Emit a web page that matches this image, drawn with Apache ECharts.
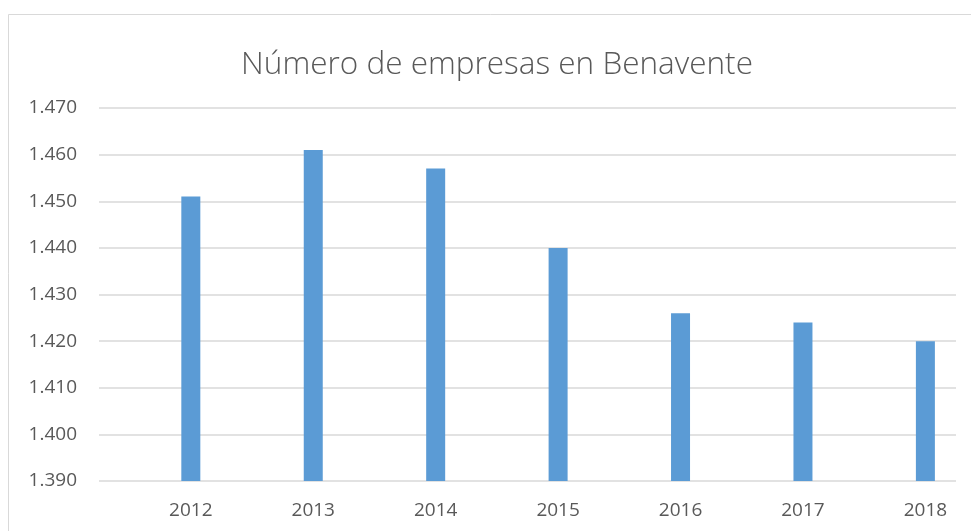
<!DOCTYPE html>
<html>
<head>
<meta charset="utf-8">
<script src="https://cdn.jsdelivr.net/npm/echarts@6/dist/echarts.min.js"></script>
<style>
  html, body { margin: 0; padding: 0; background: #fff; }
  #chart { width: 971px; height: 531px; }
</style>
</head>
<body>
<div id="chart"></div>
<script>
const years = ['2012', '2013', '2014', '2015', '2016', '2017', '2018'];
const empresas = [1451, 1461, 1457, 1440, 1426, 1424, 1420];
const yTicks = [1390, 1400, 1410, 1420, 1430, 1440, 1450, 1460, 1470];

const textColor = '#595959';
const font = '"Open Sans", "Liberation Sans", sans-serif';

// 1.470 style labels (Spanish thousands separator)
const fmtMiles = v => String(v).replace(/\B(?=(\d{3})+(?!\d))/g, '.');

const myChart = echarts.init(document.getElementById('chart'));

const option = {
  backgroundColor: '#fff',
  animation: false,
  title: {
    text: 'Número de empresas en Benavente',
    left: 492,
    textAlign: 'center',
    top: 44,
    textStyle: {
      color: textColor,
      fontFamily: font,
      fontWeight: 300,
      fontSize: 31.5
    }
  },
  graphic: [{
    type: 'rect',
    silent: true,
    shape: { x: 8.5, y: 14.5, width: 990, height: 540 },
    style: { fill: 'none', stroke: '#d9d9d9', lineWidth: 1 }
  }],
  grid: { left: 99, right: 15, top: 108, bottom: 50 },
  xAxis: {
    type: 'value',
    min: -0.75,
    max: 6.25,
    splitLine: { show: false },
    axisLine: { show: false },
    axisTick: { show: false },
    axisLabel: {
      customValues: years.map((y, i) => i),
      formatter: v => years[v],
      color: textColor,
      fontFamily: font,
      fontSize: 19,
      margin: 20
    }
  },
  yAxis: {
    type: 'value',
    min: yTicks[0],
    max: yTicks[yTicks.length - 1],
    interval: 10,
    axisLine: { show: false },
    axisTick: { show: false },
    axisLabel: {
      formatter: fmtMiles,
      color: textColor,
      fontFamily: font,
      fontSize: 19,
      margin: 22
    },
    splitLine: { lineStyle: { color: '#d9d9d9', width: 1.5 } }
  },
  series: [{
    name: 'Empresas',
    type: 'bar',
    barWidth: 19,
    data: empresas.map((v, i) => [i, v]),
    itemStyle: { color: '#5b9bd5' }
  }]
};

myChart.setOption(option);
</script>
</body>
</html>
